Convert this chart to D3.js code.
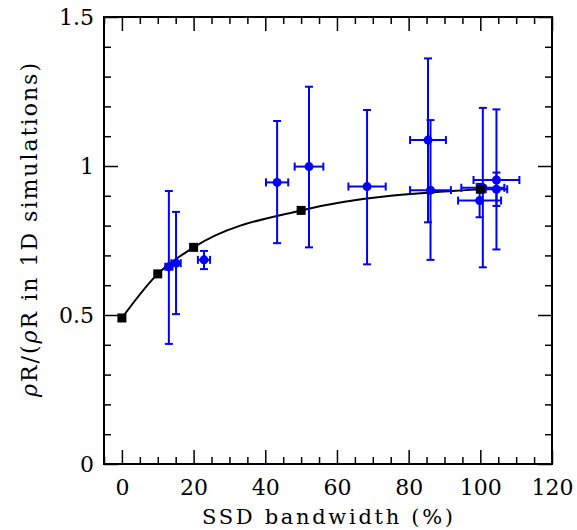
<!DOCTYPE html>
<html>
<head>
<meta charset="utf-8">
<script src="https://cdn.jsdelivr.net/npm/d3@7"></script>
<style>
  body { margin: 0; background: #fff; }
  svg { display: block; }
  .tick text { font-family: "DejaVu Serif", serif; }
</style>
</head>
<body>
<svg></svg>
<script>
// simulations (black squares + curve)
const simX = [0, 10, 20, 50, 100];
const simY = [0.49, 0.638, 0.727, 0.851, 0.922];

// experiments (blue points with error bars)
const expX = [13.1, 15.1, 22.9, 43.3, 52.2, 68.4, 85.4, 86.1, 99.8, 100.7, 104.5, 104.5];
const expY = [0.662, 0.674, 0.685, 0.945, 0.998, 0.931, 1.087, 0.919, 0.884, 0.927, 0.953, 0.922];
const expXErr = [1.0, 1.3, 1.7, 3.1, 4.0, 5.2, 5.0, 5.7, 6.0, 6.0, 6.4, 3.0];
const expYLo = [0.403, 0.503, 0.654, 0.741, 0.727, 0.670, 0.811, 0.685, 0.828, 0.66, 0.866, 0.72];
const expYHi = [0.916, 0.846, 0.715, 1.151, 1.266, 1.188, 1.361, 1.154, 0.94, 1.195, 0.978, 1.19];

const xMajor = [0, 20, 40, 60, 80, 100, 120];
const yMajor = [0, 0.5, 1, 1.5];

const width = 577;
const height = 530;
const pLeft = 104, pRight = 552, pTop = 17, pBottom = 464;

const svg = d3.select('svg').attr('width', width).attr('height', height);

const x = d3.scaleLinear().domain([-5, 120]).range([pLeft, pRight]);
const y = d3.scaleLinear().domain([0, 1.5]).range([pBottom, pTop]);

const xMinor = d3.range(-5, 121, 5).filter((v) => xMajor.indexOf(v) < 0);
const yMinor = d3.range(0, 16).map((v) => v / 10).filter((v) => yMajor.indexOf(v) < 0);

function addAxis(axis, tx, ty, labels) {
  const g = svg.append('g').attr('transform', 'translate(' + tx + ',' + ty + ')').call(axis);
  g.select('.domain').remove();
  g.selectAll('.tick line').attr('stroke', '#000').attr('stroke-width', 1.5);
  if (!labels) g.selectAll('.tick text').remove();
  return g;
}

// bottom
const gb = addAxis(d3.axisBottom(x).tickValues(xMajor).tickSize(-14).tickPadding(15).tickFormat(d3.format('d')), 0, pBottom, true);
gb.selectAll('.tick text').attr('font-size', 22).attr('fill', '#000');
addAxis(d3.axisBottom(x).tickValues(xMinor).tickSize(-7), 0, pBottom, false);
// top
addAxis(d3.axisTop(x).tickValues(xMajor).tickSize(-14), 0, pTop, false);
addAxis(d3.axisTop(x).tickValues(xMinor).tickSize(-7), 0, pTop, false);
// left
const gl = addAxis(d3.axisLeft(y).tickValues(yMajor).tickSize(-14).tickPadding(10).tickFormat(d3.format('')), pLeft, 0, true);
gl.selectAll('.tick text').attr('font-size', 22).attr('fill', '#000');
addAxis(d3.axisLeft(y).tickValues(yMinor).tickSize(-7), pLeft, 0, false);
// right
addAxis(d3.axisRight(y).tickValues(yMajor).tickSize(-14), pRight, 0, false);
addAxis(d3.axisRight(y).tickValues(yMinor).tickSize(-7), pRight, 0, false);

// frame
svg.append('rect')
  .attr('x', pLeft).attr('y', pTop)
  .attr('width', pRight - pLeft).attr('height', pBottom - pTop)
  .attr('fill', 'none').attr('stroke', '#000').attr('stroke-width', 2);

// simulation curve
const sim = simX.map((d, i) => [d, simY[i]]);
svg.append('path')
  .datum(sim)
  .attr('fill', 'none')
  .attr('stroke', '#000')
  .attr('stroke-width', 2)
  .attr('d', d3.line().x((d) => x(d[0])).y((d) => y(d[1])).curve(d3.curveMonotoneX));

// experiments
const blue = '#0000ff';
const cap = 4;
const exp = svg.append('g').attr('stroke', blue).attr('stroke-width', 2);
expX.forEach((ex, i) => {
  const px = x(ex), py = y(expY[i]);
  const x0 = x(ex - expXErr[i]), x1 = x(ex + expXErr[i]);
  const y0 = y(expYLo[i]), y1 = y(expYHi[i]);
  exp.append('line').attr('x1', px).attr('x2', px).attr('y1', y0).attr('y2', y1);
  exp.append('line').attr('x1', px - cap).attr('x2', px + cap).attr('y1', y0).attr('y2', y0);
  exp.append('line').attr('x1', px - cap).attr('x2', px + cap).attr('y1', y1).attr('y2', y1);
  exp.append('line').attr('x1', x0).attr('x2', x1).attr('y1', py).attr('y2', py);
  exp.append('line').attr('x1', x0).attr('x2', x0).attr('y1', py - cap).attr('y2', py + cap);
  exp.append('line').attr('x1', x1).attr('x2', x1).attr('y1', py - cap).attr('y2', py + cap);
});
svg.append('g').selectAll('circle')
  .data(expX)
  .join('circle')
  .attr('cx', (d) => x(d))
  .attr('cy', (_, i) => y(expY[i]))
  .attr('r', 4.5)
  .attr('fill', blue);

// squares
svg.append('g').selectAll('rect')
  .data(sim)
  .join('rect')
  .attr('x', (d) => x(d[0]) - 4.5)
  .attr('y', (d) => y(d[1]) - 4.5)
  .attr('width', 9)
  .attr('height', 9)
  .attr('fill', '#000');

// axis titles
svg.append('text')
  .attr('x', 202)
  .attr('y', 524)
  .attr('font-family', 'DejaVu Serif, serif')
  .attr('font-size', 21)
  .attr('textLength', 251)
  .attr('lengthAdjust', 'spacing')
  .text('SSD bandwidth (%)');

const yt = svg.append('text')
  .attr('transform', 'translate(37,397) rotate(-90)')
  .attr('font-family', 'DejaVu Serif, serif')
  .attr('font-size', 22)
  .attr('textLength', 334)
  .attr('lengthAdjust', 'spacing');
yt.append('tspan').attr('font-style', 'italic').text('ρ');
yt.append('tspan').text('R/(');
yt.append('tspan').attr('font-style', 'italic').text('ρ');
yt.append('tspan').text('R in 1D simulations)');
</script>
</body>
</html>
